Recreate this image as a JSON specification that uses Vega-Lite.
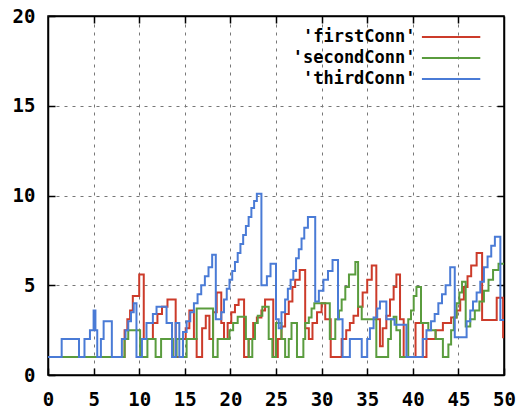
{
"$schema":"https://vega.github.io/schema/vega-lite/v6.json",
"width":456,"height":359,"autosize":"none",
"padding":{"left":48,"top":16,"right":19,"bottom":33},
"background":"white",
"config":{"view":{"stroke":"black","strokeWidth":1.5},"font":"DejaVu Sans Mono"},
"datasets":{
"lines":[
{"s":"'firstConn'","x":0,"y":1},{"s":"'firstConn'","x":8.4,"y":2.5},{"s":"'firstConn'","x":8.7,"y":3.1},{"s":"'firstConn'","x":9,"y":3.6},{"s":"'firstConn'","x":9.3,"y":4.4},{"s":"'firstConn'","x":10,"y":5.6},{"s":"'firstConn'","x":10.5,"y":2},{"s":"'firstConn'","x":11.5,"y":2.9},{"s":"'firstConn'","x":12,"y":3.4},{"s":"'firstConn'","x":12.5,"y":3.8},{"s":"'firstConn'","x":13.1,"y":4.2},{"s":"'firstConn'","x":14,"y":1},{"s":"'firstConn'","x":14.8,"y":2},{"s":"'firstConn'","x":15.1,"y":2.6},{"s":"'firstConn'","x":15.5,"y":3.6},{"s":"'firstConn'","x":16,"y":2},{"s":"'firstConn'","x":16.3,"y":1},{"s":"'firstConn'","x":16.9,"y":2.6},{"s":"'firstConn'","x":17.3,"y":3.3},{"s":"'firstConn'","x":17.7,"y":2},{"s":"'firstConn'","x":18.1,"y":3.5},{"s":"'firstConn'","x":18.5,"y":4.6},{"s":"'firstConn'","x":19,"y":2.9},{"s":"'firstConn'","x":19.3,"y":2},{"s":"'firstConn'","x":19.7,"y":2.9},{"s":"'firstConn'","x":20.1,"y":3.5},{"s":"'firstConn'","x":20.5,"y":3.9},{"s":"'firstConn'","x":20.9,"y":4.2},{"s":"'firstConn'","x":21.5,"y":1},{"s":"'firstConn'","x":22,"y":2},{"s":"'firstConn'","x":22.5,"y":2.9},{"s":"'firstConn'","x":22.9,"y":3.2},{"s":"'firstConn'","x":23.4,"y":3.6},{"s":"'firstConn'","x":23.8,"y":4.2},{"s":"'firstConn'","x":24.7,"y":1},{"s":"'firstConn'","x":25.2,"y":2},{"s":"'firstConn'","x":25.6,"y":2.7},{"s":"'firstConn'","x":26,"y":3.4},{"s":"'firstConn'","x":26.4,"y":4.1},{"s":"'firstConn'","x":26.8,"y":4.9},{"s":"'firstConn'","x":27.1,"y":5.3},{"s":"'firstConn'","x":27.6,"y":5.85},{"s":"'firstConn'","x":28.2,"y":2.6},{"s":"'firstConn'","x":28.6,"y":2},{"s":"'firstConn'","x":29,"y":2.9},{"s":"'firstConn'","x":29.5,"y":3.5},{"s":"'firstConn'","x":30,"y":4},{"s":"'firstConn'","x":30.4,"y":3.1},{"s":"'firstConn'","x":31,"y":1},{"s":"'firstConn'","x":32.2,"y":2},{"s":"'firstConn'","x":32.7,"y":2.5},{"s":"'firstConn'","x":33.1,"y":2.9},{"s":"'firstConn'","x":33.5,"y":3.3},{"s":"'firstConn'","x":34,"y":3.8},{"s":"'firstConn'","x":34.5,"y":4.6},{"s":"'firstConn'","x":35,"y":5.3},{"s":"'firstConn'","x":35.5,"y":6.1},{"s":"'firstConn'","x":36,"y":3.1},{"s":"'firstConn'","x":36.4,"y":1.6},{"s":"'firstConn'","x":36.7,"y":2.6},{"s":"'firstConn'","x":37.1,"y":3.3},{"s":"'firstConn'","x":37.5,"y":4.2},{"s":"'firstConn'","x":37.9,"y":4.9},{"s":"'firstConn'","x":38.2,"y":5.6},{"s":"'firstConn'","x":38.6,"y":3.1},{"s":"'firstConn'","x":39,"y":1},{"s":"'firstConn'","x":40.3,"y":2.9},{"s":"'firstConn'","x":41.1,"y":1},{"s":"'firstConn'","x":41.5,"y":2},{"s":"'firstConn'","x":42.5,"y":2.5},{"s":"'firstConn'","x":43.3,"y":2.9},{"s":"'firstConn'","x":44.2,"y":3.2},{"s":"'firstConn'","x":44.8,"y":3.6},{"s":"'firstConn'","x":45.2,"y":4.2},{"s":"'firstConn'","x":45.6,"y":4.9},{"s":"'firstConn'","x":46,"y":5.5},{"s":"'firstConn'","x":46.4,"y":6.1},{"s":"'firstConn'","x":47,"y":6.8},{"s":"'firstConn'","x":47.6,"y":3.06},{"s":"'firstConn'","x":49.2,"y":4.3},{"s":"'firstConn'","x":49.9,"y":2.1},{"s":"'firstConn'","x":50,"y":2.1},
{"s":"'secondConn'","x":0,"y":1},{"s":"'secondConn'","x":8.4,"y":2},{"s":"'secondConn'","x":8.8,"y":2.5},{"s":"'secondConn'","x":10.1,"y":1},{"s":"'secondConn'","x":10.9,"y":2},{"s":"'secondConn'","x":11.8,"y":1},{"s":"'secondConn'","x":12.4,"y":2},{"s":"'secondConn'","x":13.7,"y":1},{"s":"'secondConn'","x":14.1,"y":2},{"s":"'secondConn'","x":14.8,"y":1},{"s":"'secondConn'","x":15.2,"y":2},{"s":"'secondConn'","x":16.3,"y":3.7},{"s":"'secondConn'","x":18.1,"y":1},{"s":"'secondConn'","x":18.6,"y":2},{"s":"'secondConn'","x":19.9,"y":2.5},{"s":"'secondConn'","x":20.3,"y":2.9},{"s":"'secondConn'","x":20.8,"y":3.25},{"s":"'secondConn'","x":21.7,"y":2},{"s":"'secondConn'","x":22,"y":1},{"s":"'secondConn'","x":22.4,"y":2},{"s":"'secondConn'","x":22.7,"y":2.9},{"s":"'secondConn'","x":23,"y":3.3},{"s":"'secondConn'","x":23.5,"y":3.8},{"s":"'secondConn'","x":24.2,"y":2},{"s":"'secondConn'","x":24.6,"y":1},{"s":"'secondConn'","x":25,"y":2.9},{"s":"'secondConn'","x":25.6,"y":2},{"s":"'secondConn'","x":26,"y":1},{"s":"'secondConn'","x":26.4,"y":2},{"s":"'secondConn'","x":26.7,"y":2.9},{"s":"'secondConn'","x":27.3,"y":1},{"s":"'secondConn'","x":28,"y":2},{"s":"'secondConn'","x":28.2,"y":2.9},{"s":"'secondConn'","x":28.6,"y":3.2},{"s":"'secondConn'","x":28.9,"y":3.7},{"s":"'secondConn'","x":29.2,"y":4},{"s":"'secondConn'","x":30.9,"y":2},{"s":"'secondConn'","x":31.5,"y":3.1},{"s":"'secondConn'","x":31.9,"y":3.6},{"s":"'secondConn'","x":32.2,"y":4.2},{"s":"'secondConn'","x":32.6,"y":4.9},{"s":"'secondConn'","x":33,"y":5.6},{"s":"'secondConn'","x":33.7,"y":6.3},{"s":"'secondConn'","x":34,"y":3.8},{"s":"'secondConn'","x":34.4,"y":3.1},{"s":"'secondConn'","x":36,"y":1},{"s":"'secondConn'","x":37.3,"y":2},{"s":"'secondConn'","x":37.6,"y":3.1},{"s":"'secondConn'","x":37.9,"y":3.25},{"s":"'secondConn'","x":38.2,"y":2.5},{"s":"'secondConn'","x":38.6,"y":1},{"s":"'secondConn'","x":39.5,"y":3.1},{"s":"'secondConn'","x":39.8,"y":3.6},{"s":"'secondConn'","x":40.1,"y":4.4},{"s":"'secondConn'","x":40.4,"y":4.9},{"s":"'secondConn'","x":40.9,"y":2.9},{"s":"'secondConn'","x":41.7,"y":2.5},{"s":"'secondConn'","x":42.5,"y":2},{"s":"'secondConn'","x":43.3,"y":1},{"s":"'secondConn'","x":43.9,"y":1.7},{"s":"'secondConn'","x":44.2,"y":2.5},{"s":"'secondConn'","x":44.5,"y":3.2},{"s":"'secondConn'","x":44.8,"y":4},{"s":"'secondConn'","x":45.1,"y":4.6},{"s":"'secondConn'","x":45.4,"y":5.2},{"s":"'secondConn'","x":45.8,"y":2.7},{"s":"'secondConn'","x":46.3,"y":3.1},{"s":"'secondConn'","x":46.8,"y":3.6},{"s":"'secondConn'","x":47.3,"y":4.1},{"s":"'secondConn'","x":47.8,"y":4.7},{"s":"'secondConn'","x":48.3,"y":5.3},{"s":"'secondConn'","x":48.8,"y":5.85},{"s":"'secondConn'","x":49.4,"y":6.2},{"s":"'secondConn'","x":50,"y":6.2},
{"s":"'thirdConn'","x":0,"y":1},{"s":"'thirdConn'","x":1.5,"y":2},{"s":"'thirdConn'","x":3.4,"y":1},{"s":"'thirdConn'","x":4,"y":2},{"s":"'thirdConn'","x":4.6,"y":2.5},{"s":"'thirdConn'","x":5,"y":3.6},{"s":"'thirdConn'","x":5.2,"y":2.5},{"s":"'thirdConn'","x":5.4,"y":1},{"s":"'thirdConn'","x":5.8,"y":2},{"s":"'thirdConn'","x":6.1,"y":3},{"s":"'thirdConn'","x":7,"y":1},{"s":"'thirdConn'","x":8.1,"y":2},{"s":"'thirdConn'","x":8.5,"y":2.5},{"s":"'thirdConn'","x":8.8,"y":3},{"s":"'thirdConn'","x":9.1,"y":3.5},{"s":"'thirdConn'","x":9.4,"y":4},{"s":"'thirdConn'","x":9.7,"y":1},{"s":"'thirdConn'","x":10.3,"y":2},{"s":"'thirdConn'","x":10.8,"y":2.9},{"s":"'thirdConn'","x":11.5,"y":3.4},{"s":"'thirdConn'","x":11.9,"y":3.8},{"s":"'thirdConn'","x":13,"y":2.9},{"s":"'thirdConn'","x":13.6,"y":1},{"s":"'thirdConn'","x":14,"y":2.9},{"s":"'thirdConn'","x":14.4,"y":1},{"s":"'thirdConn'","x":14.8,"y":2.4},{"s":"'thirdConn'","x":15.2,"y":3},{"s":"'thirdConn'","x":15.6,"y":3.5},{"s":"'thirdConn'","x":16,"y":4},{"s":"'thirdConn'","x":16.4,"y":4.5},{"s":"'thirdConn'","x":16.8,"y":5},{"s":"'thirdConn'","x":17.2,"y":5.5},{"s":"'thirdConn'","x":17.6,"y":6},{"s":"'thirdConn'","x":18,"y":6.7},{"s":"'thirdConn'","x":18.4,"y":3.1},{"s":"'thirdConn'","x":19,"y":3.5},{"s":"'thirdConn'","x":19.3,"y":4.2},{"s":"'thirdConn'","x":19.6,"y":4.8},{"s":"'thirdConn'","x":19.9,"y":5.3},{"s":"'thirdConn'","x":20.2,"y":5.8},{"s":"'thirdConn'","x":20.5,"y":6.3},{"s":"'thirdConn'","x":20.8,"y":6.8},{"s":"'thirdConn'","x":21.1,"y":7.3},{"s":"'thirdConn'","x":21.4,"y":7.8},{"s":"'thirdConn'","x":21.7,"y":8.3},{"s":"'thirdConn'","x":22,"y":8.8},{"s":"'thirdConn'","x":22.3,"y":9.3},{"s":"'thirdConn'","x":22.6,"y":9.7},{"s":"'thirdConn'","x":22.9,"y":10.1},{"s":"'thirdConn'","x":23.4,"y":5},{"s":"'thirdConn'","x":24,"y":5.5},{"s":"'thirdConn'","x":24.4,"y":6.2},{"s":"'thirdConn'","x":25,"y":3.1},{"s":"'thirdConn'","x":25.3,"y":2.6},{"s":"'thirdConn'","x":25.6,"y":3.5},{"s":"'thirdConn'","x":26,"y":4.2},{"s":"'thirdConn'","x":26.3,"y":4.8},{"s":"'thirdConn'","x":26.6,"y":5.3},{"s":"'thirdConn'","x":26.9,"y":5.8},{"s":"'thirdConn'","x":27.2,"y":6.5},{"s":"'thirdConn'","x":27.5,"y":7},{"s":"'thirdConn'","x":27.8,"y":7.6},{"s":"'thirdConn'","x":28.1,"y":8.2},{"s":"'thirdConn'","x":28.5,"y":8.8},{"s":"'thirdConn'","x":29.3,"y":4.1},{"s":"'thirdConn'","x":29.7,"y":4.7},{"s":"'thirdConn'","x":30.2,"y":5.3},{"s":"'thirdConn'","x":30.7,"y":5.8},{"s":"'thirdConn'","x":31.2,"y":6.4},{"s":"'thirdConn'","x":31.8,"y":3.1},{"s":"'thirdConn'","x":32.3,"y":1},{"s":"'thirdConn'","x":33.1,"y":2},{"s":"'thirdConn'","x":34.4,"y":1},{"s":"'thirdConn'","x":35,"y":2},{"s":"'thirdConn'","x":35.3,"y":2.6},{"s":"'thirdConn'","x":35.7,"y":3.2},{"s":"'thirdConn'","x":36.1,"y":3.7},{"s":"'thirdConn'","x":36.4,"y":4.1},{"s":"'thirdConn'","x":37.1,"y":3.1},{"s":"'thirdConn'","x":38,"y":2.8},{"s":"'thirdConn'","x":39.3,"y":1},{"s":"'thirdConn'","x":41.1,"y":2},{"s":"'thirdConn'","x":41.5,"y":2.5},{"s":"'thirdConn'","x":42,"y":3},{"s":"'thirdConn'","x":42.4,"y":3.4},{"s":"'thirdConn'","x":42.8,"y":4},{"s":"'thirdConn'","x":43.2,"y":4.5},{"s":"'thirdConn'","x":43.6,"y":5},{"s":"'thirdConn'","x":44.1,"y":6},{"s":"'thirdConn'","x":44.6,"y":2.1},{"s":"'thirdConn'","x":45.9,"y":3},{"s":"'thirdConn'","x":46.3,"y":3.6},{"s":"'thirdConn'","x":46.6,"y":4.1},{"s":"'thirdConn'","x":47,"y":4.6},{"s":"'thirdConn'","x":47.4,"y":5.2},{"s":"'thirdConn'","x":47.8,"y":6},{"s":"'thirdConn'","x":48.2,"y":6.6},{"s":"'thirdConn'","x":48.6,"y":7.2},{"s":"'thirdConn'","x":49,"y":7.7},{"s":"'thirdConn'","x":49.6,"y":3.06},{"s":"'thirdConn'","x":50,"y":3.06}
],
"legend":[
{"s":"'firstConn'","tx":40.3,"x":41,"x2":47.4,"y":18.83},
{"s":"'secondConn'","tx":40.3,"x":41,"x2":47.4,"y":17.66},
{"s":"'thirdConn'","tx":40.3,"x":41,"x2":47.4,"y":16.49}
]
},
"layer":[
{"data":{"name":"lines"},
 "mark":{"type":"line","interpolate":"step-after","strokeWidth":2,"clip":true},
 "encoding":{
  "x":{"field":"x","type":"quantitative","scale":{"domain":[0,50],"nice":false,"zero":false},
   "axis":{"orient":"bottom","values":[0,5,10,15,20,25,30,35,40,45,50],"grid":true,"gridDash":[3,5],"gridColor":"#777","gridWidth":1,"gridOpacity":1,
    "tickSize":-7,"tickColor":"black","tickWidth":1.5,"domainColor":"black","domainWidth":1.5,
    "labelFont":"DejaVu Sans Mono","labelFontWeight":"bold","labelFontSize":19,"labelColor":"black","labelPadding":22,"title":null,"labelFlush":false}},
  "y":{"field":"y","type":"quantitative","scale":{"domain":[0,20],"nice":false},
   "axis":{"orient":"left","values":[0,5,10,15,20],"grid":true,"gridDash":[3,5],"gridColor":"#777","gridWidth":1,"gridOpacity":1,
    "tickSize":-7,"tickColor":"black","tickWidth":1.5,"domainColor":"black","domainWidth":1.5,
    "labelFont":"DejaVu Sans Mono","labelFontWeight":"bold","labelFontSize":19,"labelColor":"black","labelPadding":20,"title":null,"labelFlush":false}},
  "color":{"field":"s","type":"nominal","scale":{"domain":["'firstConn'","'secondConn'","'thirdConn'"],"range":["#cc3b2a","#5a9c3e","#4a7bd6"]},"legend":null}
 }},
{"data":{"name":"legend"},
 "mark":{"type":"rule","strokeWidth":2},
 "encoding":{
  "x":{"field":"x","type":"quantitative","axis":{"orient":"top","values":[5,10,15,20,25,30,35,40,45],"labels":false,"grid":false,"tickSize":-7,"tickColor":"black","tickWidth":1.5,"domainColor":"black","domainWidth":1.5,"title":null}},
  "x2":{"field":"x2"},
  "y":{"field":"y","type":"quantitative","axis":{"orient":"right","values":[5,10,15],"labels":false,"grid":false,"tickSize":-7,"tickColor":"black","tickWidth":1.5,"domainColor":"black","domainWidth":1.5,"title":null}},
  "color":{"field":"s","type":"nominal","legend":null}
 }},
{"data":{"name":"legend"},
 "mark":{"type":"text","align":"right","baseline":"middle","font":"DejaVu Sans Mono","fontWeight":"bold","fontSize":17,"color":"black"},
 "encoding":{
  "x":{"field":"tx","type":"quantitative","axis":null},
  "y":{"field":"y","type":"quantitative","axis":null},
  "text":{"field":"s"}
 }}
],
"resolve":{"axis":{"x":"independent","y":"independent"}}
}
